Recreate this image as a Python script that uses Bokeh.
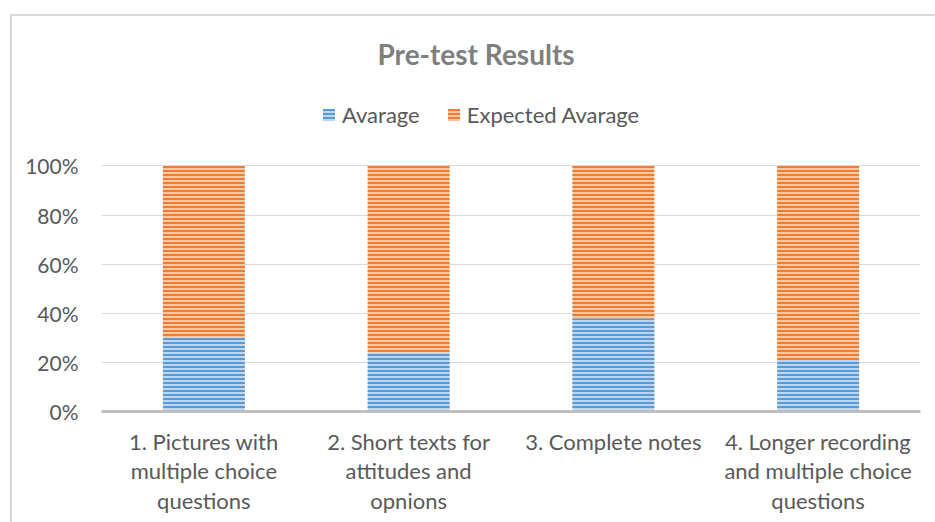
from bokeh.plotting import figure
from bokeh.models import (ColumnDataSource, Range1d, FixedTicker, NumeralTickFormatter,
                          Legend, LegendItem)
from bokeh.embed import file_html
from bokeh.resources import INLINE

categories = ["1. Pictures with\nmultiple choice\nquestions",
              "2. Short texts for\nattitudes and\nopnions",
              "3. Complete notes",
              "4. Longer recording\nand multiple choice\nquestions"]
average = [0.30, 0.24, 0.38, 0.21]
expected = [0.70, 0.76, 0.62, 0.79]
y_ticks = [0, 0.2, 0.4, 0.6, 0.8, 1.0]

src = ColumnDataSource(dict(
    cat=categories,
    avg=average,
    exp_top=[a + e for a, e in zip(average, expected)],
    zero=[0] * len(categories),
))

FONT = "Lato"
TXT = "#595959"

p = figure(x_range=categories, y_range=Range1d(0, 1.336),
           width=925, height=508, output_backend="svg", toolbar_location=None,
           min_border_left=89, min_border_right=17, min_border_bottom=113,
           min_border_top=67)
# chart area frame: light grey border on the left and top
p.margin = (14, 0, 0, 10)
p.styles = {"border-left": "2px solid #d9d9d9", "border-top": "2px solid #d9d9d9"}
p.outline_line_color = None
p.x_range.range_padding = 0

r1 = p.vbar(x="cat", bottom="zero", top="avg", width=0.4, source=src,
            fill_color="#bdd5ef", line_color=None,
            hatch_pattern="horizontal_line", hatch_color="#5b9bd5",
            hatch_scale=4, hatch_weight=2)
r2 = p.vbar(x="cat", bottom="avg", top="exp_top", width=0.4, source=src,
            fill_color="#f8c7a4", line_color=None,
            hatch_pattern="horizontal_line", hatch_color="#ed7d31",
            hatch_scale=4, hatch_weight=2)

p.title.text = "Pre-test Results"
p.title.text_font = FONT
p.title.text_font_size = "28px"
p.title.text_font_style = "bold"
p.title.text_color = "#7f7f7f"
p.title.align = "left"
p.title.offset = 276
p.title.standoff = 25

legend = Legend(items=[LegendItem(label="Avarage", renderers=[r1]),
                       LegendItem(label="Expected Avarage", renderers=[r2])],
                orientation="horizontal", location=(220, 283),
                label_text_font=FONT, label_text_font_size="22px",
                label_text_color=TXT, glyph_width=15, glyph_height=15,
                label_standoff=6, spacing=26, padding=4, margin=0,
                border_line_color=None, background_fill_alpha=0)
p.add_layout(legend)

p.yaxis.ticker = FixedTicker(ticks=y_ticks)
p.yaxis.formatter = NumeralTickFormatter(format="0%")
p.yaxis.axis_line_color = None
p.yaxis.major_tick_line_color = None
p.yaxis.minor_tick_line_color = None
p.yaxis.major_label_standoff = 17
p.yaxis.major_label_text_font = FONT
p.yaxis.major_label_text_font_size = "21px"
p.yaxis.major_label_text_color = TXT

p.xaxis.axis_line_color = "#bfbfbf"
p.xaxis.axis_line_width = 3
p.xaxis.major_tick_line_color = None
p.xaxis.minor_tick_line_color = None
p.xaxis.major_label_standoff = 10
p.xaxis.major_label_text_font = FONT
p.xaxis.major_label_text_font_size = "22px"
p.xaxis.major_label_text_color = TXT
p.xaxis.major_label_text_line_height = 1.1

p.xgrid.grid_line_color = None
p.ygrid.ticker = FixedTicker(ticks=y_ticks)
p.ygrid.grid_line_color = "#d9d9d9"
p.ygrid.grid_line_width = 1

open("out.html", "w").write(file_html(p, INLINE))
